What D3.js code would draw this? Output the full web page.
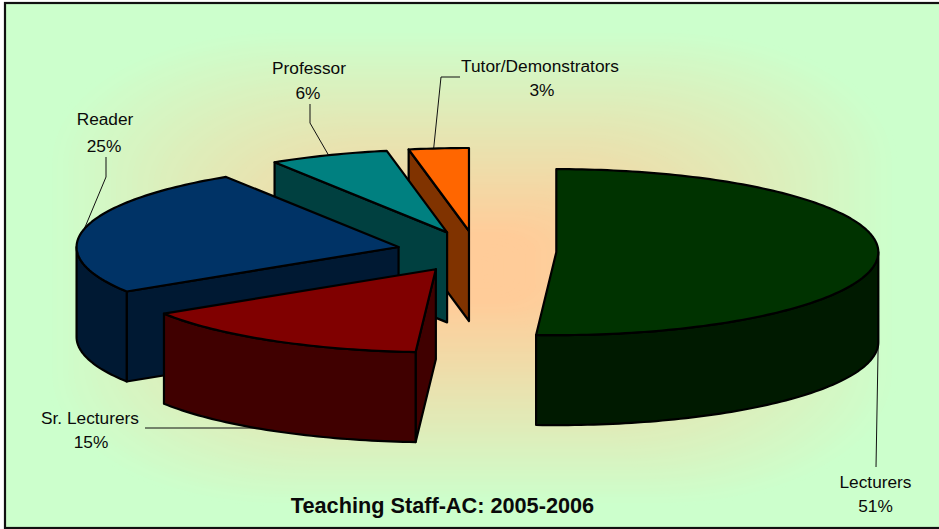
<!DOCTYPE html>
<html><head><meta charset="utf-8">
<script src="https://cdn.jsdelivr.net/npm/d3@7"></script>
<style>html,body{margin:0;padding:0;background:#fff}svg{display:block}text{font-family:"Liberation Sans",Arial,sans-serif;fill:#0a0a0a}</style>
</head><body><div id="chart"></div>
<script>
const categories = ["Lecturers","Sr. Lecturers","Reader","Professor","Tutor/Demonstrators"];
const seriesValues = [51,15,25,6,3];
const topColors = ["#003300","#800000","#003366","#008080","#FF6600"];
const sideColors = ["#001A00","#400000","#001933","#004040","#803300"];
const chartTitle = "Teaching Staff-AC: 2005-2006";

const W=939,H=529;
const cx=476.5,cy=251.5,rx=322,ry=83,depth=90,explode=0.248;
// label text anchor + leader elbow, per category
const labelLayout=[
 {x:875.5,y:488,pctDx:0,gap:24,leader:[[876,467]]},
 {x:90,y:424,pctDx:1,gap:24,leader:[[145,428]],flat:true},
 {x:105,y:125,pctDx:-1,gap:27,leader:[[106,177],[106,157]]},
 {x:309,y:74,pctDx:-1,gap:25,leader:[[310,123],[310,104]]},
 {x:540,y:72,pctDx:2,gap:24,anchorDx:-5,leader:[[441,77],[460,77]]}
];

const svg=d3.select("#chart").append("svg").attr("width",W).attr("height",H);

// background: soft box-shaped glow from peach centre to green edge
const bgColor=d3.scaleLinear().domain([0.15,1]).range(["#FFCC99","#CCFFCC"]).interpolate(d3.interpolateRgb).clamp(true);
svg.append("rect").attr("x",5).attr("y",3).attr("width",W).attr("height",525).attr("fill","#CCFFCC");
const bg=svg.append("g");
d3.range(1,0,-0.0125).forEach(t=>{
  const hw=425*t,hh=238*t;
  bg.append("rect").attr("x",472-hw).attr("y",268-hh).attr("width",2*hw).attr("height",2*hh)
    .attr("rx",hw*0.55).attr("ry",hh*0.55).attr("fill",bgColor(t));
});
svg.append("rect").attr("x",5).attr("y",3).attr("width",W).attr("height",525)
 .attr("fill","none").attr("stroke","#111").attr("stroke-width",2.2);

const arcs=d3.pie().sort(null).value(d=>d)(seriesValues);
const slices=arcs.map((a,i)=>{
  const mid=(a.startAngle+a.endAngle)/2;
  return {i,a0:a.startAngle,a1:a.endAngle,mid,
    x:d3.scaleLinear().domain([-1,1]).range([cx-rx,cx+rx]),
    y:d3.scaleLinear().domain([-1,1]).range([cy-ry,cy+ry]),
    ox:explode*rx*Math.sin(mid),oy:-explode*ry*Math.cos(mid)};
});
const pt=(s,ang,drop=0)=>[s.x(Math.sin(ang))+s.ox,s.y(-Math.cos(ang))+s.oy+drop];
const centre=(s,drop=0)=>[s.x(0)+s.ox,s.y(0)+s.oy+drop];
const line=d3.line();
const sweep=(a,b)=>{const n=Math.max(2,Math.ceil((b-a)/0.02));return d3.range(n+1).map(k=>a+(b-a)*k/n);};

// leaders under the pie
const lg=svg.append("g");
slices.forEach(s=>{
  const L=labelLayout[s.i];
  const lower=Math.cos(s.mid)<0;
  const p=pt(s,s.mid,lower?depth:0);
  const anchor=[p[0]+(L.anchorDx||0),p[1]];
  let pts=[anchor,...L.leader];
  if(L.flat) pts=[[anchor[0],L.leader[0][1]],...L.leader];
  lg.append("path").attr("d",line(pts)).attr("fill","none").attr("stroke","#111").attr("stroke-width",1);
});

// pie, back to front
const order=d3.range(slices.length).reverse();
const pg=svg.append("g").attr("stroke","#000").attr("stroke-width",2.2).attr("stroke-linejoin","round");
order.forEach(i=>{
  const s=slices[i];
  const wall=(ang)=>{
    pg.append("path").attr("fill",sideColors[i])
      .attr("d",line([centre(s),pt(s,ang),pt(s,ang,depth),centre(s,depth)])+"Z");
  };
  if(Math.sin(s.a0)<-1e-6) wall(s.a0);
  if(Math.sin(s.a1)>1e-6) wall(s.a1);
  const lo=Math.max(s.a0,Math.PI/2),hi=Math.min(s.a1,3*Math.PI/2);
  if(hi>lo){
    const as=sweep(lo,hi);
    pg.append("path").attr("fill",sideColors[i])
      .attr("d",line([...as.map(a=>pt(s,a)),...as.slice().reverse().map(a=>pt(s,a,depth))])+"Z");
  }
  pg.append("path").attr("fill",topColors[i])
    .attr("d",line([centre(s),...sweep(s.a0,s.a1).map(a=>pt(s,a))])+"Z");
});

// labels
const tg=svg.append("g").attr("text-anchor","middle").attr("font-size",17.3);
categories.forEach((c,i)=>{
  const L=labelLayout[i];
  tg.append("text").attr("x",L.x).attr("y",L.y).text(c);
  tg.append("text").attr("x",L.x+L.pctDx).attr("y",L.y+L.gap).text(seriesValues[i]+"%");
});
svg.append("text").attr("x",442.5).attr("y",513).attr("text-anchor","middle")
  .attr("font-size",21.7).attr("font-weight","bold").text(chartTitle);
</script></body></html>
